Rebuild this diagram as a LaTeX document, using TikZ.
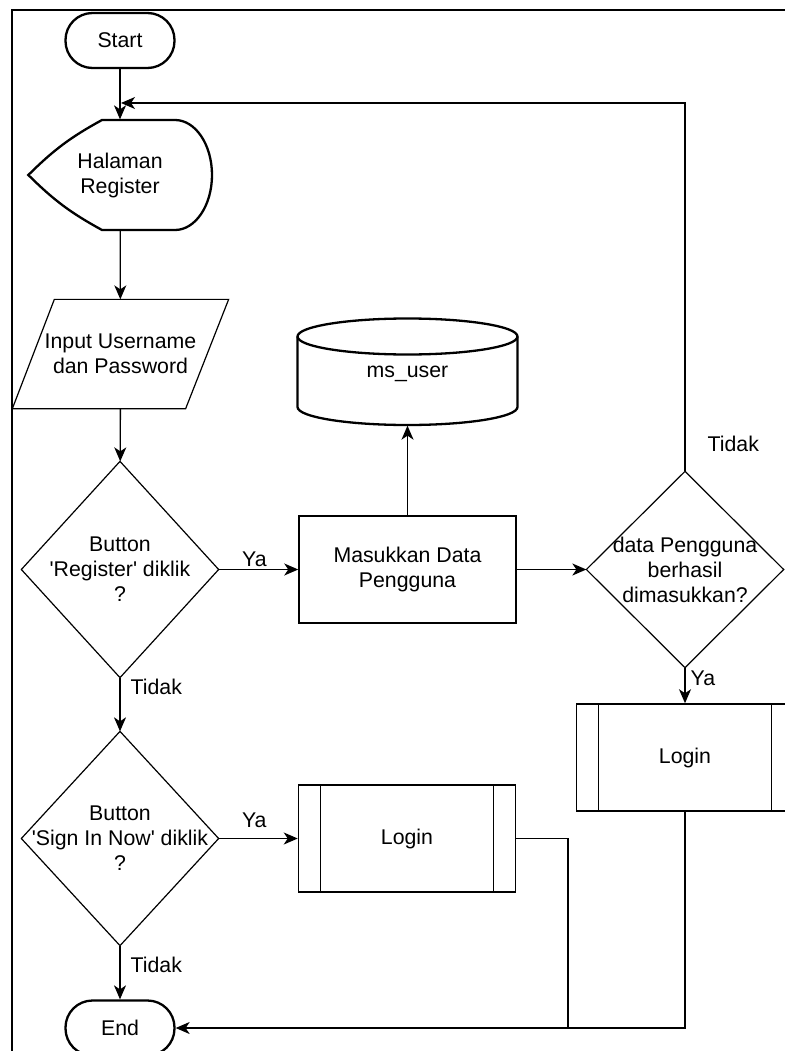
\documentclass[tikz,border=0pt]{standalone}
\usepackage{fontspec}
\setmainfont{Liberation Sans}
\usetikzlibrary{arrows.meta,positioning}

\tikzset{
  term/.style={draw, line width=2.3pt, rounded corners=27pt, minimum width=109pt, minimum height=55pt, inner sep=0pt},
  blank/.style={inner sep=0pt, align=center},
  process/.style={draw, line width=1.5pt, minimum width=217pt, minimum height=107pt, inner sep=0pt, align=center},
  subproc/.style={process, path picture={
      \draw[line width=1.5pt]
        ([xshift=22pt]path picture bounding box.north west) -- ([xshift=22pt]path picture bounding box.south west)
        ([xshift=-22pt]path picture bounding box.north east) -- ([xshift=-22pt]path picture bounding box.south east);}},
  lbl/.style={inner sep=2pt}
}

\begin{document}
\begin{tikzpicture}[x=1pt, y=-1pt, >={Stealth[length=14pt,width=12pt,inset=4pt]},
    line width=1.3pt, font=\fontsize{21.3pt}{25pt}\selectfont]
  \useasboundingbox (0,0) rectangle (784,1051);

  % page frame
  \draw[line width=1.2pt] (12,1070) -- (12,10) -- (800,10);

  \node[term]  (start) at (120,40.5) {Start};
  \node[blank, minimum width=182pt, minimum height=110pt] (page) at (120,175) {Halaman\\Register};
  \node[blank, minimum width=215pt, minimum height=108pt] (input) at (120.5,354) {Input Username\\dan Password};
  \node[blank, minimum width=196pt, minimum height=215pt] (regbtn) at (120,569.5)
    {Button\\\textquotesingle Register\textquotesingle{} diklik\\?};
  \node[blank, minimum width=196pt, minimum height=213pt] (signbtn) at (120,838.5)
    {Button\\\textquotesingle Sign In Now\textquotesingle{} diklik\\?};
  \node[term]  (end) at (120,1028) {End};

  \node[process] (insert) at (407.5,569.5) {Masukkan Data\\Pengguna};
  \node[blank, minimum width=220pt, minimum height=102pt] (db) at (407.5,374) {ms\_user};
  \node[blank, minimum width=196pt, minimum height=195pt] (okdata) at (685,569.5)
    {data Pengguna\\berhasil\\dimasukkan?};
  \node[subproc] (login1) at (407,838.5) {Login};
  \node[subproc] (login2) at (685,757.5) {Login};

  \coordinate (merge) at (121,103);
  \coordinate (join) at (568,1028);

  % display shape
  \draw[line width=2.3pt] (page.west) to[bend left=8] (102,120) -- (175,120)
    .. controls (195.4,120) and (212,144.6) .. (212,175)
    .. controls (212,205.4) and (195.4,230) .. (175,230) -- (102,230)
    to[bend left=8] (page.west) -- cycle;
  % input
  \draw[line width=1.2pt] ([xshift=42pt]input.north west) -- (input.north east)
    -- ([xshift=-43pt]input.south east) -- (input.south west) -- cycle;
  % decisions
  \foreach \n in {regbtn,signbtn,okdata}
    \draw[line width=1.2pt] (\n.north) -- (\n.east) -- (\n.south) -- (\n.west) -- cycle;
  % database
  \draw[line width=2.3pt] (407.5,336.5) ellipse [x radius=110pt, y radius=18pt];
  \draw[line width=2.3pt] (297.5,336.5) -- (297.5,407)
    arc[start angle=180, end angle=360, x radius=110pt, y radius=18pt] -- (517.5,336.5);

  \draw[->] (start) -- (page);
  \draw[->] (page) -- (input);
  \draw[->] (input) -- (regbtn);
  \draw[->] (regbtn) -- node[lbl, above, pos=0.45] {Ya} (insert);
  \draw[->] (regbtn) -- node[lbl, right, pos=0.18, xshift=8pt] {Tidak} (signbtn);
  \draw[->] (signbtn) -- node[lbl, above, pos=0.45, yshift=8pt] {Ya} (login1);
  \draw[->] (signbtn) -- node[lbl, right, pos=0.36, xshift=8pt] {Tidak} (end);
  \draw[->] (insert) -- (db);
  \draw[->] (insert) -- (okdata);
  \draw[->] (okdata) -- node[lbl, right, pos=0.3, xshift=3pt] {Ya} (login2);
  \draw[->] (okdata) |- node[lbl, right, pos=0.037, xshift=20pt] {Tidak} (merge);
  \draw[->] (login2) |- (end);
  \draw (login1) -| (join);
\end{tikzpicture}
\end{document}
